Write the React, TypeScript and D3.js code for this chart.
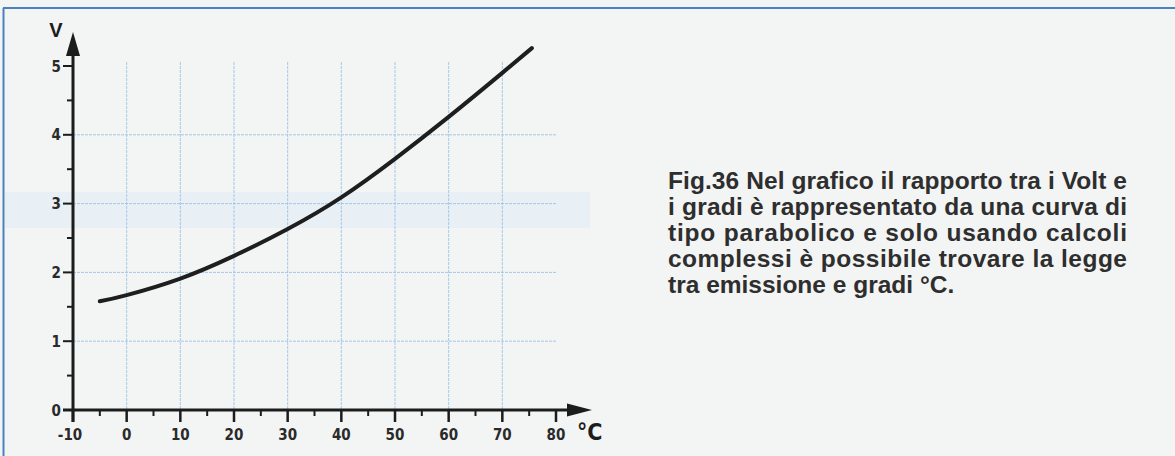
import React, { useEffect, useRef } from 'react';
import * as d3 from 'd3';

// values
const temps = [-5, 0, 10, 20, 30, 40, 50, 60, 70, 75.5];
const volts = [1.58, 1.67, 1.91, 2.24, 2.63, 3.09, 3.65, 4.26, 4.9, 5.26];
const xTicks = [-10, 0, 10, 20, 30, 40, 50, 60, 70, 80];
const xMinor = [-5, 5, 15, 25, 35, 45, 55, 65, 75];
const yTicks = [0, 1, 2, 3, 4, 5];
const yMinor = [0.5, 1.5, 2.5, 3.5, 4.5];
const xGrid = [0, 10, 20, 30, 40, 50, 60, 70];
const yGrid = [1, 2, 3, 4];
const caption = [
  'Fig.36 Nel grafico il rapporto tra i Volt e',
  'i gradi è rappresentato da una curva di',
  'tipo parabolico e solo usando calcoli',
  'complessi è possibile trovare la legge',
  'tra emissione e gradi °C.',
];

const W = 1175;
const H = 456;
const narrow = "'Liberation Sans Narrow', 'DejaVu Sans Condensed', sans-serif";

export default function App() {
  const svgRef = useRef<SVGSVGElement>(null);

  function draw(elm: SVGSVGElement) {
    const svg = d3.select(elm);
    svg.selectAll('*').remove();

    const x = d3.scaleLinear().domain([-10, 80]).range([73, 556]);
    const y = d3.scaleLinear().domain([0, 5]).range([410, 66]);
    const ink = '#1c1c1c';

    svg.append('rect').attr('width', W).attr('height', H).attr('fill', '#f3f4f4');
    // faint blue band bleeding through from the page
    svg.append('rect')
      .attr('x', 5).attr('y', 192).attr('width', 585).attr('height', 36)
      .attr('fill', '#e8eff5');

    // frame
    svg.append('line').attr('x1', 3).attr('x2', W).attr('y1', 8).attr('y2', 8)
      .attr('stroke', '#4a82bf').attr('stroke-width', 2);
    svg.append('line').attr('x1', 3.5).attr('x2', 3.5).attr('y1', 8).attr('y2', H)
      .attr('stroke', '#4a82bf').attr('stroke-width', 2);

    // grid
    const grid = svg.append('g')
      .attr('stroke', '#a4c8e6').attr('stroke-width', 1).attr('stroke-dasharray', '3,1');
    grid.selectAll('.gv').data(xGrid).enter().append('line')
      .attr('x1', d => x(d)).attr('x2', d => x(d))
      .attr('y1', 62).attr('y2', y(0));
    grid.selectAll('.gh').data(yGrid).enter().append('line')
      .attr('x1', x(-10)).attr('x2', x(80))
      .attr('y1', d => y(d)).attr('y2', d => y(d));

    // axes
    const x0 = x(-10);
    const y0 = y(0);
    svg.append('line').attr('x1', x0).attr('x2', x0).attr('y1', 422).attr('y2', 50)
      .attr('stroke', ink).attr('stroke-width', 3);
    svg.append('path').attr('d', `M${x0},32 L${x0 - 7},56 L${x0 + 7},56 Z`).attr('fill', ink);
    svg.append('line').attr('x1', 63).attr('x2', 575).attr('y1', y0).attr('y2', y0)
      .attr('stroke', ink).attr('stroke-width', 3);
    svg.append('path').attr('d', `M592,${y0} L567,${y0 - 6.5} L567,${y0 + 6.5} Z`).attr('fill', ink);

    // x ticks
    svg.selectAll('.xt').data(xTicks).enter().append('line')
      .attr('x1', d => x(d)).attr('x2', d => x(d)).attr('y1', y0).attr('y2', 422)
      .attr('stroke', ink).attr('stroke-width', 2.5);
    svg.selectAll('.xm').data(xMinor).enter().append('line')
      .attr('x1', d => x(d)).attr('x2', d => x(d)).attr('y1', y0).attr('y2', 416)
      .attr('stroke', ink).attr('stroke-width', 2);
    svg.selectAll('.xl').data(xTicks).enter().append('text')
      .text(d => String(d))
      .attr('x', d => x(d) - (d < 0 ? 3 : 0)).attr('y', 440)
      .attr('text-anchor', 'middle')
      .attr('font-family', narrow).attr('font-weight', 'bold').attr('font-size', 15)
      .attr('fill', '#2a2a2a');

    // y ticks
    svg.selectAll('.yt').data(yTicks).enter().append('line')
      .attr('x1', 63).attr('x2', x0).attr('y1', d => y(d)).attr('y2', d => y(d))
      .attr('stroke', ink).attr('stroke-width', 2);
    svg.selectAll('.ym').data(yMinor).enter().append('line')
      .attr('x1', 67).attr('x2', x0).attr('y1', d => y(d)).attr('y2', d => y(d))
      .attr('stroke', ink).attr('stroke-width', 2);
    svg.selectAll('.yl').data(yTicks).enter().append('text')
      .text(d => String(d))
      .attr('x', 61).attr('y', d => y(d) + 5.5)
      .attr('text-anchor', 'end')
      .attr('font-family', narrow).attr('font-weight', 'bold').attr('font-size', 15)
      .attr('fill', '#2a2a2a');

    // axis names
    svg.append('text').text('V')
      .attr('x', 56).attr('y', 37).attr('text-anchor', 'middle')
      .attr('font-family', 'Liberation Sans, sans-serif').attr('font-weight', 'bold')
      .attr('font-size', 20).attr('fill', ink);
    svg.append('text').text('°C')
      .attr('x', 577).attr('y', 440)
      .attr('font-family', narrow).attr('font-weight', 'bold')
      .attr('font-size', 23).attr('fill', ink);

    // curve
    const pts = temps.map((t, i) => [t, volts[i]] as [number, number]);
    const line = d3.line<[number, number]>()
      .x(d => x(d[0])).y(d => y(d[1]))
      .curve(d3.curveNatural);
    svg.append('path').attr('d', line(pts) as string)
      .attr('fill', 'none').attr('stroke', '#1e1e1e')
      .attr('stroke-width', 4).attr('stroke-linecap', 'round');

    // caption, justified like the printed page
    const cap = svg.append('g')
      .attr('font-family', 'Liberation Sans, Arial, sans-serif')
      .attr('font-weight', 'bold').attr('font-size', 24.5).attr('fill', '#2e2e2e');
    caption.forEach((s, i) => {
      const t = cap.append('text').text(s).attr('x', 668).attr('y', 189 + i * 26);
      if (i < caption.length - 1) {
        t.attr('textLength', 459).attr('lengthAdjust', 'spacing');
      }
    });
  }

  useEffect(() => {
    document.body.style.margin = '0';
    if (svgRef.current) {
      draw(svgRef.current);
    }
  }, []);

  return <svg ref={svgRef} width={W} height={H} style={{ display: 'block' }}></svg>;
}
